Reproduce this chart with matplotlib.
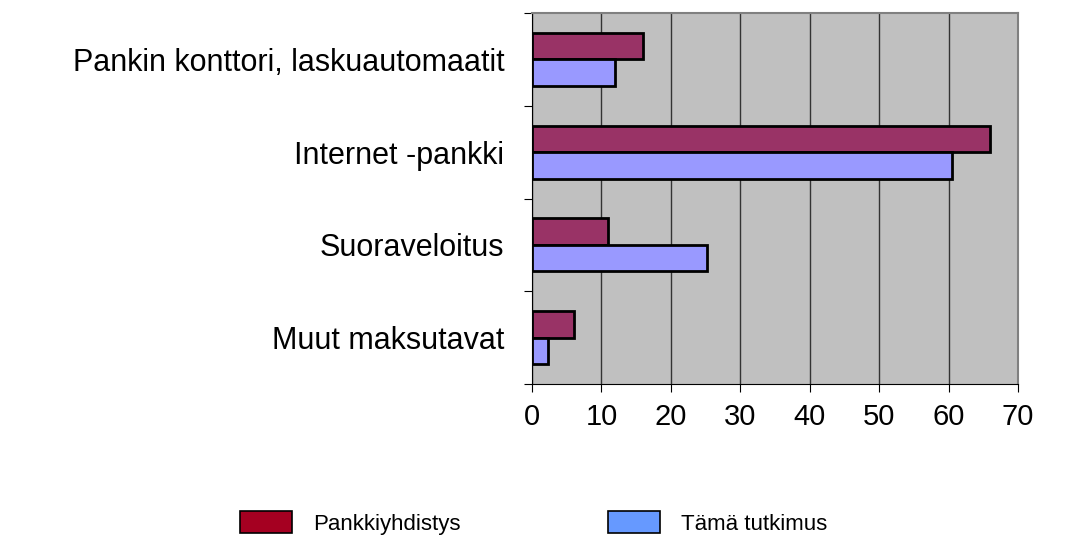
import matplotlib.pyplot as plt
from matplotlib.patches import Patch
import numpy as np

plt.rcParams['font.family'] = ['Liberation Sans', 'DejaVu Sans']

categories = ["Pankin konttori, laskuautomaatit", "Internet -pankki",
              "Suoraveloitus", "Muut maksutavat"]
pankkiyhdistys = [16, 66, 11, 6]
tama_tutkimus = [12, 60.5, 25.2, 2.3]
series_names = ["Pankkiyhdistys", "Tämä tutkimus"]

fig = plt.figure(figsize=(10.67, 5.47), dpi=100)
ax = fig.add_axes([0.4986, 0.298, 0.4555, 0.678])
ax.set_facecolor('#c0c0c0')

y = np.arange(len(categories))
h = 0.286
ax.barh(y - h / 2, pankkiyhdistys, height=h, color='#993366',
        edgecolor='black', linewidth=2, zorder=3)
ax.barh(y + h / 2, tama_tutkimus, height=h, color='#9999ff',
        edgecolor='black', linewidth=2, zorder=3)

ax.set_xlim(0, 70)
ax.set_ylim(len(categories) - 0.5, -0.5)
ax.set_xticks(range(0, 71, 10))
ax.xaxis.grid(True, color='#333333', linewidth=1, zorder=1)

# category labels sit between the tick marks
ax.set_yticks(np.arange(len(categories) + 1) - 0.5)
ax.set_yticklabels([])
ax.set_yticks(y, minor=True)
ax.set_yticklabels(categories, minor=True, fontsize=22)
ax.tick_params(axis='y', which='minor', length=0, pad=20)
ax.tick_params(axis='y', which='major', length=6, direction='out')
ax.tick_params(axis='x', length=6, direction='out', labelsize=21, pad=8)

for side in ['top', 'right']:
    ax.spines[side].set_color('#808080')
    ax.spines[side].set_linewidth(1.5)
for side in ['left', 'bottom']:
    ax.spines[side].set_color('black')

handles = [Patch(facecolor='#a50021', edgecolor='black', linewidth=1.2),
           Patch(facecolor='#6699ff', edgecolor='black', linewidth=1.2)]
leg = fig.legend(handles, series_names, loc='center left', ncol=2,
                 bbox_to_anchor=(0.225, 0.044), frameon=False, fontsize=16,
                 handlelength=2.35, handleheight=1.13, handletextpad=0.95,
                 columnspacing=6.6, borderpad=0, borderaxespad=0)

fig.savefig('out.png', dpi=100)
